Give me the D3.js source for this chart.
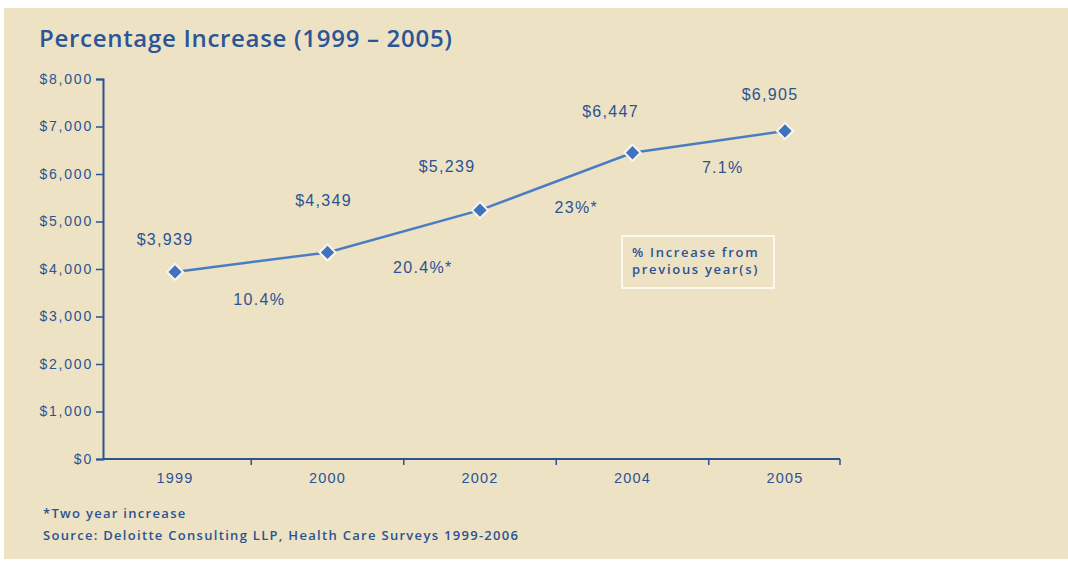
<!DOCTYPE html>
<html>
<head>
<meta charset="utf-8">
<script src="https://cdn.jsdelivr.net/npm/d3@7"></script>
<style>
	body { margin: 0; background: #ffffff; }
	svg { display: block; }
</style>
</head>
<body>
<div id="chart"></div>
<script>
'use strict'

// Données du graphique
const years = ['1999', '2000', '2002', '2004', '2005'];
const costs = [3939, 4349, 5239, 6447, 6905];
const costLabels = ['$3,939', '$4,349', '$5,239', '$6,447', '$6,905'];
const pctLabels = ['10.4%', '20.4%*', '23%*', '7.1%'];
const yTicks = [0, 1000, 2000, 3000, 4000, 5000, 6000, 7000, 8000];

const width = 1068;
const height = 563;
const blue = '#2a5394';
const lineBlue = '#4a7cc4';
const font = "'Open Sans', 'Noto Sans', sans-serif";
const numFont = "'Liberation Sans', Arial, sans-serif";

const svg = d3.select('#chart')
	.append('svg')
	.attr('width', width)
	.attr('height', height);

// Fond beige
svg.append('rect')
	.attr('x', 4).attr('y', 8)
	.attr('width', width - 4).attr('height', height - 12)
	.attr('fill', '#eee2c4');

svg.append('text')
	.attr('x', 39).attr('y', 47)
	.attr('fill', '#2b5596')
	.style('font-family', font)
	.style('font-weight', 600)
	.style('font-size', '24px')
	.style('letter-spacing', '0.7px')
	.text('Percentage Increase (1999 \u2013 2005)');

// Echelles
const x = d3.scalePoint().domain(years).range([175, 785]);
const y = d3.scaleLinear().domain([0, 8000]).range([459, 79]);

const yAxis = d3.axisLeft(y)
	.tickValues(yTicks)
	.tickSize(7)
	.tickPadding(3)
	.tickFormat(d => '$' + d3.format(',')(d));

const gy = svg.append('g')
	.attr('transform', 'translate(103,0)')
	.call(yAxis);
gy.select('.domain').attr('stroke', blue).attr('stroke-width', 2);
gy.selectAll('.tick line').attr('stroke', blue).attr('stroke-width', 1.5);
gy.selectAll('.tick text')
	.attr('fill', blue)
	.style('font-family', numFont)
	.style('font-size', '14px')
	.style('letter-spacing', '1.8px');

// Axe des x : graduations entre les années
const step = x.step();
const bounds = [103].concat(years.slice(0, -1).map(d => x(d) + step / 2)).concat([x.range()[1] + 55]);

svg.append('line')
	.attr('x1', 103).attr('x2', bounds[bounds.length - 1])
	.attr('y1', y(0)).attr('y2', y(0))
	.attr('stroke', blue).attr('stroke-width', 2);

svg.append('g')
	.selectAll('line')
	.data(bounds.slice(1))
	.enter()
	.append('line')
		.attr('x1', d => d).attr('x2', d => d)
		.attr('y1', y(0)).attr('y2', y(0) + 6)
		.attr('stroke', blue).attr('stroke-width', 1.5);

svg.append('g')
	.selectAll('text')
	.data(years)
	.enter()
	.append('text')
		.attr('x', d => x(d))
		.attr('y', y(0) + 24)
		.attr('text-anchor', 'middle')
		.attr('fill', blue)
		.style('font-family', numFont)
		.style('font-size', '14.5px')
		.style('letter-spacing', '1.2px')
		.text(d => d);

// Ligne et marqueurs
const line = d3.line()
	.x((d, i) => x(years[i]))
	.y(d => y(d));

svg.append('path')
	.datum(costs)
	.attr('d', line)
	.attr('fill', 'none')
	.attr('stroke', lineBlue)
	.attr('stroke-width', 2.5);

svg.append('g')
	.selectAll('path')
	.data(costs)
	.enter()
	.append('path')
		.attr('transform', (d, i) => `translate(${x(years[i])},${y(d)}) rotate(45)`)
		.attr('d', d3.symbol().type(d3.symbolSquare).size(130))
		.attr('fill', '#3f73bd')
		.attr('stroke', '#faf6ec')
		.attr('stroke-width', 2);

// Etiquettes des valeurs
const labelOffsets = [[-10, -27], [-4, -46], [-33, -38], [-22, -36], [-15, -31]];
svg.append('g')
	.selectAll('text')
	.data(costs)
	.enter()
	.append('text')
		.attr('x', (d, i) => x(years[i]) + labelOffsets[i][0])
		.attr('y', (d, i) => y(d) + labelOffsets[i][1])
		.attr('text-anchor', 'middle')
		.attr('fill', blue)
		.style('font-family', numFont)
		.style('font-size', '16px')
		.style('letter-spacing', '1.3px')
		.text((d, i) => costLabels[i]);

// Pourcentages entre les points
const pctOffsets = [[8, 43], [19, 42], [20, 32], [14, 31]];
svg.append('g')
	.selectAll('text')
	.data(pctLabels)
	.enter()
	.append('text')
		.attr('x', (d, i) => (x(years[i]) + x(years[i + 1])) / 2 + pctOffsets[i][0])
		.attr('y', (d, i) => y((costs[i] + costs[i + 1]) / 2) + pctOffsets[i][1])
		.attr('text-anchor', 'middle')
		.attr('fill', blue)
		.style('font-family', numFont)
		.style('font-size', '16px')
		.style('letter-spacing', '1.3px')
		.text(d => d);

// Légende
svg.append('rect')
	.attr('x', 622).attr('y', 236)
	.attr('width', 152).attr('height', 52)
	.attr('fill', 'none')
	.attr('stroke', '#fbf8f0')
	.attr('stroke-width', 2);

svg.append('text')
	.attr('x', 632).attr('y', 257)
	.attr('fill', blue)
	.style('font-family', font)
	.style('font-weight', 600)
	.style('font-size', '13px')
	.style('letter-spacing', '1.7px')
	.selectAll('tspan')
	.data(['% Increase from', 'previous year(s)'])
	.enter()
	.append('tspan')
		.attr('x', 632)
		.attr('dy', (d, i) => i ? 17 : 0)
		.text(d => d);

// Notes
svg.append('text')
	.attr('x', 43).attr('y', 518)
	.attr('fill', blue)
	.style('font-family', font)
	.style('font-weight', 600)
	.style('font-size', '13px')
	.style('letter-spacing', '1.3px')
	.selectAll('tspan')
	.data(['*Two year increase', 'Source: Deloitte Consulting LLP, Health Care Surveys 1999-2006'])
	.enter()
	.append('tspan')
		.attr('x', 43)
		.attr('dy', (d, i) => i ? 22 : 0)
		.text(d => d);
</script>
</body>
</html>
